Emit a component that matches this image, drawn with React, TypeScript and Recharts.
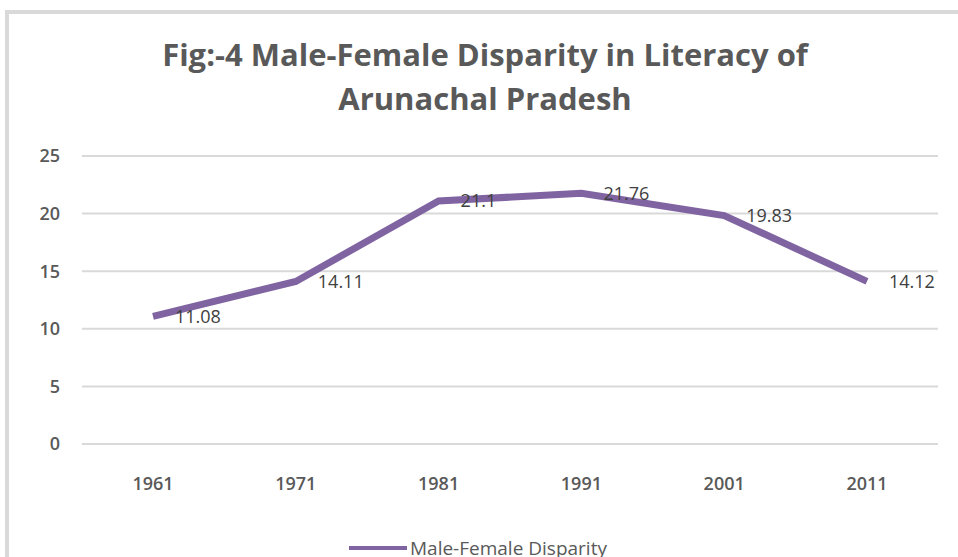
import {
  CartesianGrid,
  LabelList,
  Legend,
  Line,
  LineChart,
  XAxis,
  YAxis
} from "recharts";

const years = ["1961", "1971", "1981", "1991", "2001", "2011"];
const disparity = [11.08, 14.11, 21.1, 21.76, 19.83, 14.12];
const yTicks = [0, 5, 10, 15, 20, 25];

const seriesName = "Male-Female Disparity";
const purple = "#8064a2";
const font = "'Open Sans', sans-serif";

const data = years.map((year, i) => ({ year, value: disparity[i] }));

function LegendBox() {
  return (
    <div style={{ display: "flex", alignItems: "center", fontFamily: font }}>
      <span
        style={{ display: "inline-block", width: 58, height: 4, background: purple, marginRight: 3 }}
      />
      <span style={{ fontSize: 19, color: "#595959" }}>{seriesName}</span>
    </div>
  );
}

export default function App() {
  return (
    <div
      style={{
        position: "absolute",
        left: 0,
        top: 0,
        width: 958,
        height: 557,
        overflow: "hidden",
        background: "#fff"
      }}
    >
      <div
        style={{
          position: "absolute",
          left: 5,
          top: 10,
          width: 1000,
          height: 700,
          border: "4px solid #d9d9d9",
          boxSizing: "border-box"
        }}
      />
      <div
        style={{
          position: "absolute",
          left: 135,
          top: 32,
          width: 700,
          textAlign: "center",
          fontFamily: font,
          fontWeight: 700,
          fontSize: 31,
          lineHeight: "44px",
          color: "#595959"
        }}
      >
        Fig:-4 Male-Female Disparity in Literacy of
        <br />
        Arunachal Pradesh
      </div>
      <LineChart
        width={958}
        height={557}
        data={data}
        margin={{ top: 156, right: 20, left: 22, bottom: 83 }}
        style={{ position: "absolute", left: 0, top: 0 }}
      >
        <CartesianGrid stroke="#d9d9d9" strokeWidth={2} vertical={false} />
        <XAxis
          dataKey="year"
          axisLine={false}
          tickLine={false}
          tickSize={0}
          tickMargin={33}
          height={30}
          padding={{ left: 71, right: 71 }}
          tick={{ fill: "#595959", fontSize: 18, fontWeight: 600, fontFamily: font }}
        />
        <YAxis
          domain={[0, 25]}
          ticks={yTicks}
          axisLine={false}
          tickLine={false}
          tickSize={0}
          tickMargin={22}
          width={60}
          tick={{ fill: "#595959", fontSize: 18, fontWeight: 600, fontFamily: font }}
        />
        <Legend
          layout="horizontal"
          verticalAlign="middle"
          content={<LegendBox />}
          wrapperStyle={{ top: 535, left: 349, width: 400 }}
        />
        <Line
          type="linear"
          dataKey="value"
          name={seriesName}
          stroke={purple}
          strokeWidth={7}
          dot={false}
          activeDot={false}
          isAnimationActive={false}
        >
          <LabelList
            dataKey="value"
            position="right"
            offset={22}
            fill="#404040"
            fontSize={18}
            fontFamily={font}
          />
        </Line>
      </LineChart>
    </div>
  );
}
